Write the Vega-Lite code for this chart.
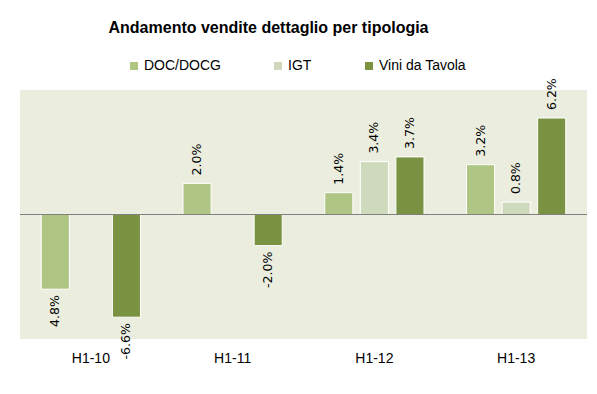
{
  "$schema": "https://vega.github.io/schema/vega-lite/v6.json",
  "autosize": {"type": "none"},
  "padding": {"left": 20, "top": 90, "right": 10, "bottom": 55},
  "width": 567,
  "height": 249,
  "background": "white",
  "title": {
    "text": "Andamento vendite dettaglio per tipologia",
    "font": "Liberation Sans",
    "fontSize": 16,
    "fontWeight": "bold",
    "color": "#000000",
    "anchor": "middle",
    "frame": "group",
    "offset": 23,
    "dx": -35
  },
  "data": {
    "values": [
      {"period": "H1-10", "type": "DOC/DOCG", "value": -4.8, "label": "4.8%"},
      {"period": "H1-10", "type": "Vini da Tavola", "value": -6.6, "label": "-6.6%"},
      {"period": "H1-11", "type": "DOC/DOCG", "value": 2.0, "label": "2.0%"},
      {"period": "H1-11", "type": "Vini da Tavola", "value": -2.0, "label": "-2.0%"},
      {"period": "H1-12", "type": "DOC/DOCG", "value": 1.4, "label": "1.4%"},
      {"period": "H1-12", "type": "IGT", "value": 3.4, "label": "3.4%"},
      {"period": "H1-12", "type": "Vini da Tavola", "value": 3.7, "label": "3.7%"},
      {"period": "H1-13", "type": "DOC/DOCG", "value": 3.2, "label": "3.2%"},
      {"period": "H1-13", "type": "IGT", "value": 0.8, "label": "0.8%"},
      {"period": "H1-13", "type": "Vini da Tavola", "value": 6.2, "label": "6.2%"}
    ]
  },
  "encoding": {
    "x": {
      "field": "period",
      "type": "nominal",
      "sort": ["H1-10", "H1-11", "H1-12", "H1-13"],
      "scale": {"paddingInner": 0.3, "paddingOuter": 0.15},
      "axis": {
        "title": null,
        "labelAngle": 0,
        "domain": false,
        "ticks": false,
        "labelFont": "Liberation Sans",
        "labelFontSize": 14,
        "labelColor": "#000000",
        "labelPadding": 12
      }
    },
    "xOffset": {
      "field": "type",
      "type": "nominal",
      "sort": ["DOC/DOCG", "IGT", "Vini da Tavola"],
      "scale": {"domain": ["DOC/DOCG", "IGT", "Vini da Tavola"], "paddingInner": 0.21, "paddingOuter": 0}
    },
    "y": {
      "field": "value",
      "type": "quantitative",
      "scale": {"domain": [-8, 8], "nice": false},
      "axis": null
    }
  },
  "layer": [
    {
      "mark": {"type": "bar", "stroke": "white", "strokeWidth": 1},
      "encoding": {
        "color": {
          "field": "type",
          "type": "nominal",
          "scale": {
            "domain": ["DOC/DOCG", "IGT", "Vini da Tavola"],
            "range": ["#aec584", "#cedabb", "#7a9343"]
          },
          "legend": {
            "title": null,
            "orient": "none",
            "legendX": 107,
            "legendY": -31,
            "direction": "horizontal",
            "symbolType": "square",
            "symbolSize": 64,
            "symbolStrokeWidth": 0,
            "labelFont": "Liberation Sans",
            "labelFontSize": 14,
            "labelColor": "#000000",
            "columnPadding": 50,
            "labelOffset": 3
          }
        }
      }
    },
    {
      "mark": {"type": "rule", "color": "#808080", "strokeWidth": 1},
      "encoding": {"y": {"datum": 0}, "x": {"value": 0}, "x2": {"value": 567}, "xOffset": null}
    },
    {
      "transform": [{"filter": "datum.value >= 0"}],
      "mark": {"type": "text", "angle": 270, "align": "left", "baseline": "middle", "dx": 8, "font": "DejaVu Sans", "fontSize": 12.5, "color": "#000000"},
      "encoding": {"text": {"field": "label"}}
    },
    {
      "transform": [{"filter": "datum.value < 0"}],
      "mark": {"type": "text", "angle": 270, "align": "right", "baseline": "middle", "dx": -6, "font": "DejaVu Sans", "fontSize": 12.5, "color": "#000000"},
      "encoding": {"text": {"field": "label"}}
    }
  ],
  "config": {
    "view": {"fill": "#ebeedf", "stroke": null}
  }
}
